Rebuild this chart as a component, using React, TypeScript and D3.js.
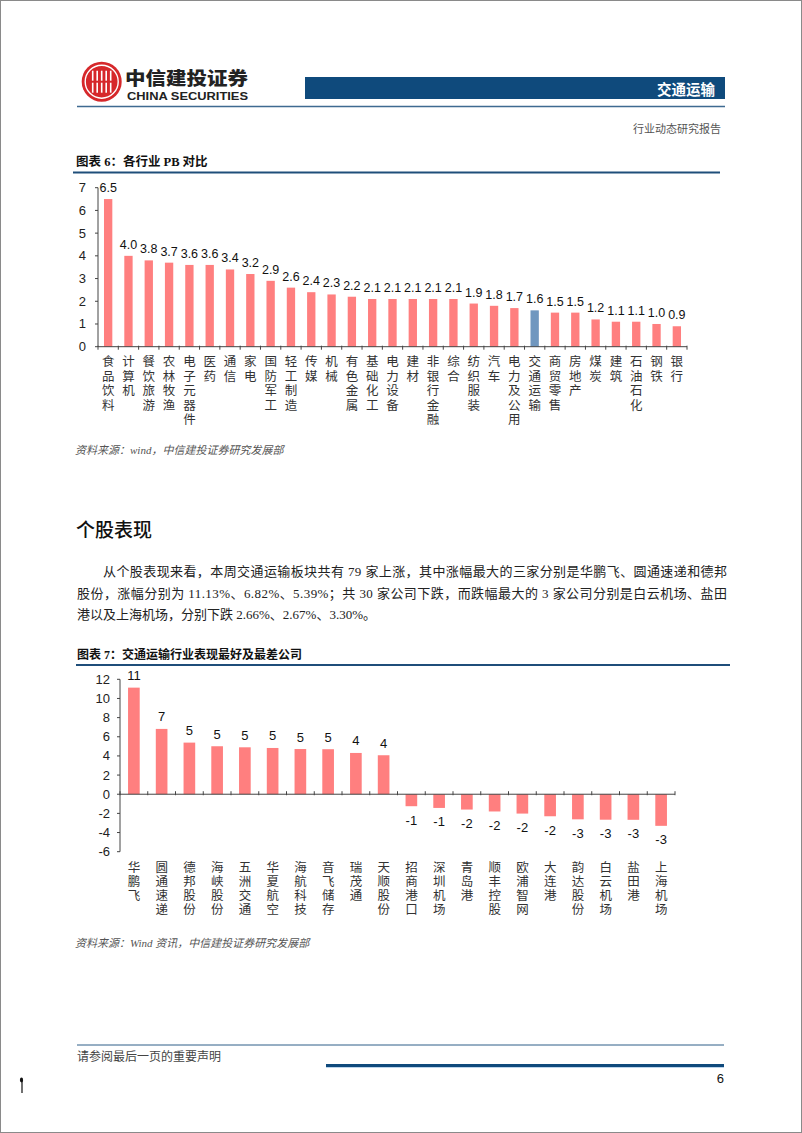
import React from "react";
import * as d3 from "d3";

// 图表6 各行业 PB
const industries = [
  "食品饮料", "计算机", "餐饮旅游", "农林牧渔", "电子元器件", "医药", "通信", "家电",
  "国防军工", "轻工制造", "传媒", "机械", "有色金属", "基础化工", "电力设备", "建材",
  "非银行金融", "综合", "纺织服装", "汽车", "电力及公用", "交通运输", "商贸零售", "房地产",
  "煤炭", "建筑", "石油石化", "钢铁", "银行",
];
const pbValues = [
  6.5, 4.0, 3.8, 3.7, 3.6, 3.6, 3.4, 3.2, 2.9, 2.6, 2.4, 2.3, 2.2, 2.1, 2.1, 2.1,
  2.1, 2.1, 1.9, 1.8, 1.7, 1.6, 1.5, 1.5, 1.2, 1.1, 1.1, 1.0, 0.9,
];
const highlightIndustry = "交通运输";
const pbTicks = [0, 1, 2, 3, 4, 5, 6, 7];

// 图表7 个股涨跌幅 (%)
const companies = [
  "华鹏飞", "圆通速递", "德邦股份", "海峡股份", "五洲交通", "华夏航空", "海航科技", "音飞储存",
  "瑞茂通", "天顺股份", "招商港口", "深圳机场", "青岛港", "顺丰控股", "欧浦智网", "大连港",
  "韵达股份", "白云机场", "盐田港", "上海机场",
];
const companyChanges = [
  11.13, 6.82, 5.39, 5.01, 4.9, 4.83, 4.72, 4.7, 4.31, 4.07, -1.25, -1.43, -1.6, -1.8,
  -2.02, -2.3, -2.62, -2.66, -2.67, -3.3,
];
const changeTicks = [-6, -4, -2, 0, 2, 4, 6, 8, 10, 12];

const paragraph = [
  "从个股表现来看，本周交通运输板块共有 79 家上涨，其中涨幅最大的三家分别是华鹏飞、圆通速递和德邦",
  "股份，涨幅分别为 11.13%、6.82%、5.39%；共 30 家公司下跌，而跌幅最大的 3 家公司分别是白云机场、盐田",
  "港以及上海机场，分别下跌 2.66%、2.67%、3.30%。",
];

const W = 802;
const H = 1133;
const NAVY = "#0f4a7c";
const PINK = "#ff7f7f";
const BLUE = "#7097bf";
const SERIF = "'Liberation Serif', 'Noto Sans CJK SC', serif";
const SANS = "'Liberation Sans', Arial, 'Noto Sans CJK SC', sans-serif";
const CJK = "'Noto Sans CJK SC', sans-serif";

// vertical category label: top-to-bottom writing mode, gap set by letter spacing
const VerticalLabel: React.FC<{ text: string; x: number; yCenter0: number; step: number; size: number }> = ({
  text, x, yCenter0, step, size,
}) => (
  <text x={x} y={yCenter0 - size / 2} writingMode="vertical-rl" textAnchor="start"
    fontSize={size} letterSpacing={step - size} fontFamily={CJK} fill="#333">
    {text}
  </text>
);

const PbChart: React.FC = () => {
  const x = d3.scaleBand<string>().domain(industries).range([98, 687]).paddingInner(0.59).paddingOuter(0.295);
  const y = d3.scaleLinear().domain([0, 7]).range([346.7, 187.7]);
  const step = x.step();
  const [x0, x1] = x.range();
  const fmt = d3.format(".1f");
  return (
    <g>
      {industries.map((d, i) => (
        <rect key={d} x={x(d)} y={y(pbValues[i])} width={x.bandwidth()} height={y(0) - y(pbValues[i])}
          fill={d === highlightIndustry ? BLUE : PINK} />
      ))}
      {/* y axis */}
      <line x1={x0} x2={x0} y1={y(7)} y2={y(0)} stroke="#444" />
      {pbTicks.map((t) => (
        <g key={t}>
          <line x1={x0 - 3} x2={x0} y1={y(t)} y2={y(t)} stroke="#444" />
          <text x={86} y={y(t)} textAnchor="end" dominantBaseline="central" fontSize={13} fontFamily={SANS} fill="#222">
            {t}
          </text>
        </g>
      ))}
      {/* x axis */}
      <line x1={x0} x2={x1} y1={y(0)} y2={y(0)} stroke="#444" />
      {d3.range(industries.length + 1).map((i) => (
        <line key={i} x1={x0 + i * step} x2={x0 + i * step} y1={y(0) - 1} y2={y(0) + 3} stroke="#444" />
      ))}
      {industries.map((d, i) => (
        <text key={d} x={(x(d) ?? 0) + x.bandwidth() / 2} y={y(pbValues[i]) - 11} textAnchor="middle"
          dominantBaseline="central" fontSize={12.5} fontFamily={SANS} fill="#111">
          {fmt(pbValues[i])}
        </text>
      ))}
      {industries.map((d) => (
        <VerticalLabel key={d} text={d} x={(x(d) ?? 0) + x.bandwidth() / 2} yCenter0={361.7} step={14.5} size={12.5} />
      ))}
    </g>
  );
};

const ChangeChart: React.FC = () => {
  const x = d3.scaleBand<string>().domain(companies).range([120, 675]).paddingInner(0.58).paddingOuter(0.29);
  const y = d3.scaleLinear().domain([-6, 12]).range([851.7, 679.3]);
  const step = x.step();
  const [x0, x1] = x.range();
  return (
    <g>
      {companies.map((d, i) => {
        const v = companyChanges[i];
        return (
          <rect key={d} x={x(d)} y={Math.min(y(v), y(0))} width={x.bandwidth()}
            height={Math.abs(y(v) - y(0))} fill={PINK} />
        );
      })}
      <line x1={x0} x2={x0} y1={y(12)} y2={y(-6)} stroke="#444" />
      {changeTicks.map((t) => (
        <g key={t}>
          <line x1={x0 - 3} x2={x0} y1={y(t)} y2={y(t)} stroke="#444" />
          <text x={110} y={y(t)} textAnchor="end" dominantBaseline="central" fontSize={13} fontFamily={SANS} fill="#222">
            {String(t)}
          </text>
        </g>
      ))}
      <line x1={x0} x2={x1} y1={y(0)} y2={y(0)} stroke="#444" />
      {d3.range(companies.length + 1).map((i) => (
        <line key={i} x1={x0 + i * step} x2={x0 + i * step} y1={y(0) - 3} y2={y(0) + 1} stroke="#444" />
      ))}
      {companies.map((d, i) => {
        const v = companyChanges[i];
        return (
          <text key={d} x={(x(d) ?? 0) + x.bandwidth() / 2} y={v >= 0 ? y(v) - 12 : y(v) + 14}
            textAnchor="middle" dominantBaseline="central" fontSize={13} fontFamily={SANS} fill="#111">
            {String(Math.round(v))}
          </text>
        );
      })}
      {companies.map((d) => (
        <VerticalLabel key={d} text={d} x={(x(d) ?? 0) + x.bandwidth() / 2} yCenter0={867.7} step={14} size={12.5} />
      ))}
    </g>
  );
};

const Logo: React.FC = () => {
  const cx = 101.7;
  const cy = 81.7;
  return (
    <g>
      <circle cx={cx} cy={cy} r={20} fill="#d6282b" />
      <circle cx={cx} cy={cy} r={16.5} fill="none" stroke="#fff" strokeWidth={1.4} />
      {[-9, -4.5, 0, 4.5, 9].map((o) => (
        <line key={o} x1={cx + o} x2={cx + o} y1={cy - 11} y2={cy + 11} stroke="#fff" strokeWidth={1.6} />
      ))}
      <line x1={cx - 11} x2={cx + 11} y1={cy} y2={cy} stroke="#d6282b" strokeWidth={2} />
      <text x={125} y={76.5} dominantBaseline="central" fontSize={18} fontWeight={900} fontFamily={CJK} fill="#222"
        textLength={123} lengthAdjust="spacingAndGlyphs">
        中信建投证券
      </text>
      <text x={127} y={96} dominantBaseline="central" fontSize={11} fontWeight={700} fontFamily={SANS} fill="#222"
        textLength={121} lengthAdjust="spacingAndGlyphs">
        CHINA SECURITIES
      </text>
    </g>
  );
};

export default function App() {
  return (
    <svg width={W} height={H} viewBox={`0 0 ${W} ${H}`}
      style={{ position: "absolute", left: 0, top: 0, background: "#fff" }}>
      <rect x={0} y={0} width={W} height={H} fill="#fff" />
      <rect x={0.5} y={0.5} width={W - 1} height={H - 1} fill="none" stroke="#8a8a8a" />

      {/* header */}
      <Logo />
      <rect x={305} y={77} width={420} height={22} fill={NAVY} />
      <text x={715} y={88.5} textAnchor="end" dominantBaseline="central" fontSize={14.5} fontWeight={700}
        fontFamily={CJK} fill="#fff">交通运输</text>
      <line x1={77} x2={725} y1={106.5} y2={106.5} stroke="#3e6a91" strokeWidth={1.5} />
      <text x={721} y={128} textAnchor="end" dominantBaseline="central" fontSize={11} fontFamily={CJK} fill="#555">
        行业动态研究报告
      </text>

      {/* chart 6 */}
      <text x={76} y={162} dominantBaseline="central" fontSize={12.5} fontWeight={700} fontFamily={SERIF} fill="#111">
        图表 6：各行业 PB 对比
      </text>
      <line x1={73} x2={720} y1={172.5} y2={172.5} stroke="#1f4e7a" strokeWidth={2} />
      <PbChart />
      <text x={75} y={450} dominantBaseline="central" fontSize={11} fontStyle="italic" fontFamily={SERIF} fill="#555">
        资料来源：wind，中信建投证券研究发展部
      </text>

      {/* section text */}
      <text x={76} y={528.5} dominantBaseline="central" fontSize={19} fontWeight={500} fontFamily={CJK} fill="#111">
        个股表现
      </text>
      <text x={103} y={571.5} dominantBaseline="central" fontSize={13} fontFamily={SERIF} fill="#222"
        textLength={624} lengthAdjust="spacing">{paragraph[0]}</text>
      <text x={77} y={593} dominantBaseline="central" fontSize={13} fontFamily={SERIF} fill="#222"
        textLength={650} lengthAdjust="spacing">{paragraph[1]}</text>
      <text x={77} y={614.5} dominantBaseline="central" fontSize={13} fontFamily={SERIF} fill="#222">
        {paragraph[2]}
      </text>

      {/* chart 7 */}
      <text x={77} y={655} dominantBaseline="central" fontSize={12} fontWeight={700} fontFamily={SERIF} fill="#111">
        图表 7：交通运输行业表现最好及最差公司
      </text>
      <line x1={76} x2={730} y1={665} y2={665} stroke="#1f4e7a" strokeWidth={2} />
      <ChangeChart />
      <text x={75} y={943} dominantBaseline="central" fontSize={11} fontStyle="italic" fontFamily={SERIF} fill="#555">
        资料来源：Wind 资讯，中信建投证券研究发展部
      </text>

      {/* footer */}
      <line x1={77} x2={724} y1={1045} y2={1045} stroke="#2f5f88" strokeWidth={1} />
      <text x={77} y={1055.5} dominantBaseline="central" fontSize={12} fontFamily={CJK} fill="#444">
        请参阅最后一页的重要声明
      </text>
      <line x1={326} x2={724} y1={1065.5} y2={1065.5} stroke={NAVY} strokeWidth={3} />
      <line x1={326} x2={724} y1={1067.5} y2={1067.5} stroke="#bcd5ec" strokeWidth={1} />
      <text x={724} y={1078} textAnchor="end" dominantBaseline="central" fontSize={13} fontFamily={SANS} fill="#111">
        6
      </text>
      <line x1={22} x2={22} y1={1080} y2={1093} stroke="#111" strokeWidth={1.2} />
      <ellipse cx={21.5} cy={1080} rx={1.6} ry={2.4} fill="#111" />
    </svg>
  );
}
